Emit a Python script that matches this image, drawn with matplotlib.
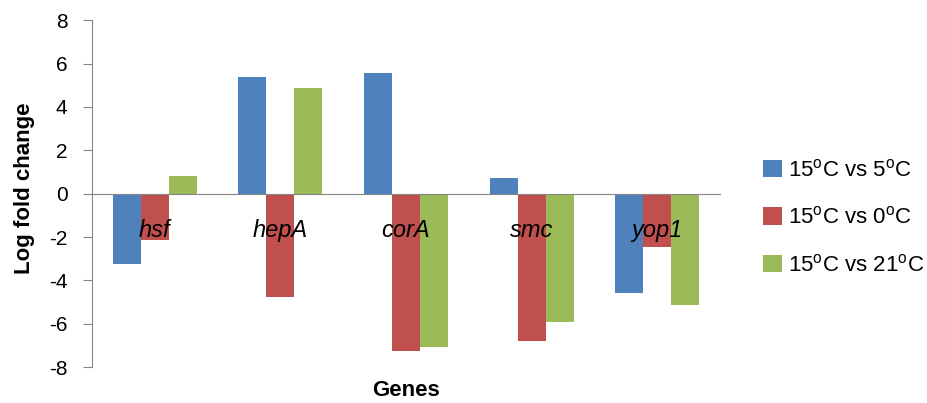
import numpy as np
import matplotlib
matplotlib.use('Agg')
import matplotlib.pyplot as plt
from matplotlib.patches import Patch

plt.rcParams['font.family'] = ['Liberation Sans', 'DejaVu Sans']
plt.rcParams['mathtext.fontset'] = 'custom'
plt.rcParams['mathtext.rm'] = 'Liberation Sans'
plt.rcParams['axes.unicode_minus'] = False

genes = ['hsf', 'hepA', 'corA', 'smc', 'yop1']
series_labels = [r'15$^{\mathrm{o}}$C vs 5$^{\mathrm{o}}$C',
                 r'15$^{\mathrm{o}}$C vs 0$^{\mathrm{o}}$C',
                 r'15$^{\mathrm{o}}$C vs 21$^{\mathrm{o}}$C']
vs_5 = [-3.24, 5.36, 5.54, 0.72, -4.59]
vs_0 = [-2.13, -4.78, -7.27, -6.81, -2.47]
vs_21 = [0.80, 4.87, -7.08, -5.93, -5.12]
colors = ['#4F81BD', '#C0504D', '#9BBB59']

fig = plt.figure(figsize=(9.28, 4.03), dpi=100)
ax = fig.add_axes([0.099, 0.089, 0.677, 0.861])

x = np.arange(len(genes))
w = 0.223
for i, (vals, c) in enumerate(zip([vs_5, vs_0, vs_21], colors)):
    ax.bar(x + (i - 1) * w, vals, width=w, color=c, zorder=2)

ax.set_xlim(-0.5, len(genes) - 0.5)
ax.set_ylim(-8, 8)
ax.set_yticks(np.arange(-8, 9, 2))
ax.tick_params(axis='y', labelsize=15, length=6.5, pad=11,
               color='#868686', direction='out')
ax.set_xticks([])

for s in ['top', 'right']:
    ax.spines[s].set_visible(False)
ax.spines['left'].set_color('#868686')
ax.spines['bottom'].set_color('#868686')
ax.spines['bottom'].set_position(('data', 0))
ax.spines['bottom'].set_zorder(3)

# gene names sit just under the zero line
for xi, g in zip(x, genes):
    ax.text(xi, -1.7, g, ha='center', va='center', fontsize=17,
            style='italic', zorder=4)

ax.set_ylabel('Log fold change', fontsize=16, fontweight='bold')
ax.yaxis.set_label_coords(-0.09, 0.515)
fig.text(0.4375, 0.032, 'Genes', ha='center', va='center',
         fontsize=16, fontweight='bold')

handles = [Patch(facecolor=c, edgecolor='none') for c in colors]
fig.legend(handles, series_labels, loc='center left',
           bbox_to_anchor=(0.822, 0.46), frameon=False, fontsize=16,
           handlelength=0.85, handleheight=0.85, handletextpad=0.3,
           labelspacing=1.15, borderaxespad=0, borderpad=0)

fig.savefig('out.png', dpi=100)
